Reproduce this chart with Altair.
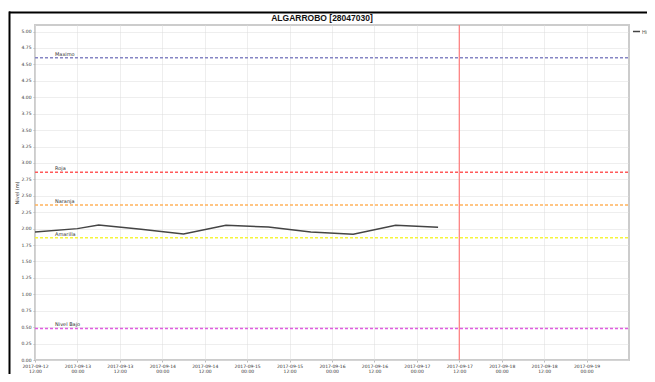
import altair as alt
import pandas as pd

# Series (hydrometry level, m)
times = ["2017-09-12T12:00:00Z", "2017-09-13T00:00:00Z", "2017-09-13T06:00:00Z",
         "2017-09-13T18:00:00Z", "2017-09-14T06:00:00Z", "2017-09-14T18:00:00Z",
         "2017-09-15T06:00:00Z", "2017-09-15T18:00:00Z", "2017-09-16T06:00:00Z",
         "2017-09-16T18:00:00Z", "2017-09-17T06:00:00Z"]
levels = [1.95, 2.00, 2.055, 1.99, 1.92, 2.05, 2.025, 1.95, 1.915, 2.05, 2.02]
series_name = "Hidrometría"
title_text = ["ALGARROBO [28047030]"]

# Threshold lines
thr_names = ["Maximo", "Roja", "Naranja", "Amarilla", "Nivel Bajo"]
thr_values = [4.60, 2.86, 2.36, 1.86, 0.48]
thr_colors = ["#8585c4", "#ff5a5a", "#ffb35c", "#f5f53a", "#e05ce0"]

now_time = ["2017-09-17T12:00:00Z"]
x_domain = ["2017-09-12T12:00:00Z", "2017-09-19T12:00:00Z"]
tick_times = pd.date_range("2017-09-12 12:00", "2017-09-19 00:00", freq="12h", tz="UTC")
tick_values = [int(t.value // 10**6) for t in tick_times]
y_ticks = [round(i * 0.25, 2) for i in range(21)]

df = pd.DataFrame({"t": times, "v": levels, "s": series_name})
thr = pd.DataFrame({"name": thr_names, "v": thr_values, "c": thr_colors,
                    "t0": x_domain[0], "t1": x_domain[1]})
now = pd.DataFrame({"t": now_time, "title": title_text})

xscale = alt.Scale(type="utc", domain=x_domain)
yscale = alt.Scale(domain=[0, 5.1], nice=False, zero=False)

xaxis = alt.Axis(values=tick_values, title=None,
                 labelExpr="[utcFormat(datum.value, '%Y-%m-%d'), utcFormat(datum.value, '%H:%M')]",
                 labelFontSize=4.5, labelColor="#333", labelPadding=1, labelLineHeight=5.5,
                 labelOverlap=False, labelBound=False, labelFlush=False,
                 tickSize=2, tickColor="#bbb", domain=False,
                 grid=True, gridColor="#dddddd", gridDash=[1, 1], labelFont="DejaVu Sans")
yaxis = alt.Axis(values=y_ticks, format=".2f", title="Nivel (m)", titleFontSize=5,
                 titleFontWeight="normal", titleColor="#333", titlePadding=1,
                 labelFontSize=4.5, labelColor="#333", labelPadding=2,
                 labelOverlap=False, labelBound=False, labelFlush=False,
                 tickSize=2, tickColor="#bbb", domain=False, tickCount=21,
                 grid=True, gridColor="#dddddd", gridDash=[1, 1], labelFont="DejaVu Sans",
                 titleFont="DejaVu Sans")

base_line = alt.Chart(df).mark_line(strokeWidth=1.5).encode(
    x=alt.X("t:T", scale=xscale, axis=xaxis),
    y=alt.Y("v:Q", scale=yscale, axis=yaxis),
    color=alt.Color("s:N", scale=alt.Scale(domain=[series_name], range=["#444444"]),
                    legend=alt.Legend(title=None, orient="none", legendX=597, legendY=2,
                                      symbolType="stroke", symbolSize=50, symbolStrokeWidth=1.5,
                                      labelFontSize=5, labelColor="#555", labelOffset=1)),
)

thr_rules = alt.Chart(thr).mark_rule(strokeWidth=1.5, strokeDash=[3, 2]).encode(
    x=alt.X("t0:T", scale=xscale, axis=xaxis),
    x2="t1:T",
    y=alt.Y("v:Q", scale=yscale, axis=yaxis),
    color=alt.Color("c:N", scale=None, legend=None),
)

thr_labels = alt.Chart(thr).mark_text(align="left", baseline="bottom", dx=20, dy=-1,
                                      fontSize=5, color="#333", font="DejaVu Sans").encode(
    x=alt.X("t0:T", scale=xscale, axis=xaxis),
    y=alt.Y("v:Q", scale=yscale, axis=yaxis),
    text="name:N",
)

now_rule = alt.Chart(now).mark_rule(color="#ff7a7a", strokeWidth=1.2).encode(
    x=alt.X("t:T", scale=xscale, axis=xaxis),
)

title_mark = alt.Chart(now).mark_text(fontSize=8.5, fontWeight="bold", font="Liberation Sans",
                                      color="#111", align="center", baseline="middle").encode(
    x=alt.value(287), y=alt.value(-7.5), text="title:N")

frame_top = alt.Chart(now).mark_rule(color="black", strokeWidth=2).encode(
    x=alt.value(-26), x2=alt.value(640), y=alt.value(-12.5))
frame_left = alt.Chart(now).mark_rule(color="black", strokeWidth=2).encode(
    x=alt.value(-25.5), y=alt.value(-13.5), y2=alt.value(400))

chart = alt.layer(base_line, thr_rules, now_rule, thr_labels, title_mark,
                  frame_top, frame_left).properties(
    width=594, height=335,
    autosize=alt.AutoSizeParams(type="none"),
    padding={"left": 27, "top": 17, "right": 18, "bottom": 14},
).configure_view(stroke="#cccccc", strokeWidth=2)

chart.save("out.html", embed_options={"renderer": "svg", "actions": False})
